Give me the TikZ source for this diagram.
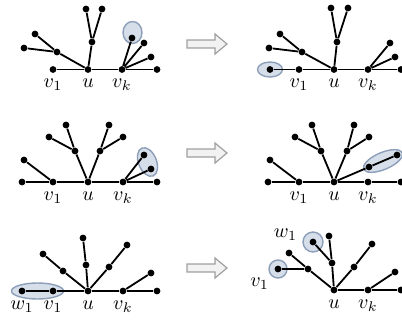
\documentclass[tikz,border=0pt]{standalone}
\usepackage{amsmath}
\usepackage{xcolor}
\usetikzlibrary{calc,backgrounds}

\definecolor{hlfill}{RGB}{214,222,234}
\definecolor{hlline}{RGB}{140,158,184}

\begin{document}
\begin{tikzpicture}[
  x=0.5pt, y=-0.5pt,
  label distance=-0.5pt,
  dot/.style={circle, fill, inner sep=0pt, minimum size=3.4pt},
  link/.style={draw, line width=0.9pt},
  hl/.style={fill=hlfill, draw=hlline, line width=0.7pt},
  imply/.style={fill=gray!10, draw=gray!75, line width=0.6pt},
]
\useasboundingbox (0,0) rectangle (402,322);

% arrows between the columns
\foreach \y in {44,153,268}
  \draw[imply] (187,{\y-4}) -- ++(28,0) -- ++(0,-6) -- ++(12,10)
    -- ++(-12,10) -- ++(0,-6) -- ++(-28,0) -- cycle;

% top left
\node[dot, label=below:$v_1$] (a-v1) at (53,69.5) {};
\node[dot, label=below:$u$] (a-u) at (88,69.5) {};
\node[dot, label=below:$v_k$] (a-vk) at (122,69.5) {};
\node[dot] (a-r) at (157,69.5) {};
\node[dot] (a-m) at (57,52) {};
\node[dot] (a-m1) at (35,34) {};
\node[dot] (a-m2) at (24,48) {};
\node[dot] (a-t) at (92,42) {};
\node[dot] (a-t1) at (86,9) {};
\node[dot] (a-t2) at (102,9) {};
\node[dot] (a-k1) at (132,38) {};
\node[dot] (a-k2) at (144,43) {};
\node[dot] (a-k3) at (151,57) {};
\draw[link] (a-v1) -- (a-u) -- (a-vk) -- (a-r);
\draw[link] (a-m2) -- (a-m) -- (a-u) -- (a-t) -- (a-t1) (a-t) -- (a-t2) (a-m1) -- (a-m);
\draw[link] (a-vk) -- (a-k1) (a-vk) -- (a-k2) (a-vk) -- (a-k3);

% top right
\node[dot] (b-w) at (270,69.5) {};
\node[dot, label=below:$v_1$] (b-v1) at (299,69.5) {};
\node[dot, label=below:$u$] (b-u) at (334,69.5) {};
\node[dot, label=below:$v_k$] (b-vk) at (368,69.5) {};
\node[dot] (b-r) at (401,69.5) {};
\node[dot] (b-m) at (302,52) {};
\node[dot] (b-m1) at (280,34) {};
\node[dot] (b-m2) at (269,48) {};
\node[dot] (b-t) at (337,42) {};
\node[dot] (b-t1) at (331,8) {};
\node[dot] (b-t2) at (348,8) {};
\node[dot] (b-k2) at (390,43) {};
\node[dot] (b-k3) at (395,57) {};
\draw[link] (b-w) -- (b-v1) -- (b-u) -- (b-vk) -- (b-r);
\draw[link] (b-m2) -- (b-m) -- (b-u) -- (b-t) -- (b-t1) (b-t) -- (b-t2) (b-m1) -- (b-m);
\draw[link] (b-vk) -- (b-k2) (b-vk) -- (b-k3);

% middle left
\node[dot] (c-l) at (22,182) {};
\node[dot, label=below:$v_1$] (c-v1) at (53,182) {};
\node[dot, label=below:$u$] (c-u) at (88,182) {};
\node[dot, label=below:$v_k$] (c-vk) at (123,182) {};
\node[dot] (c-r) at (157,182) {};
\node[dot] (c-p) at (24,160) {};
\node[dot] (c-m) at (75,151) {};
\node[dot] (c-m1) at (49,137) {};
\node[dot] (c-m2) at (66,125) {};
\node[dot] (c-t) at (100,151) {};
\node[dot] (c-t1) at (109,125) {};
\node[dot] (c-t2) at (123,137) {};
\node[dot] (c-k1) at (144,155) {};
\node[dot] (c-k2) at (151,169) {};
\draw[link] (c-l) -- (c-v1) -- (c-u) -- (c-vk) -- (c-r);
\draw[link] (c-p) -- (c-v1);
\draw[link] (c-m1) -- (c-m) -- (c-u) -- (c-t) -- (c-t2) (c-m2) -- (c-m) (c-t1) -- (c-t);
\draw[link] (c-vk) -- (c-k1) (c-vk) -- (c-k2);

% middle right
\node[dot] (d-l) at (268,182) {};
\node[dot, label=below:$v_1$] (d-v1) at (299,182) {};
\node[dot, label=below:$u$] (d-u) at (334,182) {};
\node[dot, label=below:$v_k$] (d-vk) at (368,182) {};
\node[dot] (d-r) at (401,182) {};
\node[dot] (d-p) at (270,160) {};
\node[dot] (d-m) at (321,151) {};
\node[dot] (d-m1) at (295,137) {};
\node[dot] (d-m2) at (312,125) {};
\node[dot] (d-t) at (347,151) {};
\node[dot] (d-t1) at (354,125) {};
\node[dot] (d-t2) at (369,137) {};
\node[dot] (d-k1) at (369,167) {};
\node[dot] (d-k2) at (397,155) {};
\draw[link] (d-l) -- (d-v1) -- (d-u) -- (d-vk) -- (d-r);
\draw[link] (d-p) -- (d-v1);
\draw[link] (d-m1) -- (d-m) -- (d-u) -- (d-t) -- (d-t2) (d-m2) -- (d-m) (d-t1) -- (d-t);
\draw[link] (d-u) -- (d-k1) -- (d-k2);

% bottom left
\node[dot, label=below:$w_1$] (e-w1) at (22,291) {};
\node[dot, label=below:$v_1$] (e-v1) at (53,291) {};
\node[dot, label=below:$u$] (e-u) at (88,291) {};
\node[dot, label=below:$v_k$] (e-vk) at (123,291) {};
\node[dot] (e-r) at (157,291) {};
\node[dot] (e-m) at (63,271) {};
\node[dot] (e-m1) at (43,254) {};
\node[dot] (e-t) at (86,265) {};
\node[dot] (e-t1) at (83,238) {};
\node[dot] (e-s) at (109,267) {};
\node[dot] (e-s1) at (127,245) {};
\node[dot] (e-k1) at (151,273) {};
\draw[link] (e-w1) -- (e-v1) -- (e-u) -- (e-vk) -- (e-r);
\draw[link] (e-u) -- (e-m) -- (e-m1) (e-u) -- (e-t) -- (e-t1) (e-u) -- (e-s) -- (e-s1);
\draw[link] (e-vk) -- (e-k1);

% bottom right
\node[dot, label=below:$u$] (f-u) at (334,290) {};
\node[dot, label=below:$v_k$] (f-vk) at (368,290) {};
\node[dot] (f-r) at (401,290) {};
\node[dot] (f-m) at (308,269) {};
\node[dot] (f-m1) at (289,253) {};
\node[dot, label=below left:$v_1$] (f-v1) at (278,269) {};
\node[dot] (f-t) at (332,263) {};
\node[dot] (f-t1) at (329,236) {};
\node[dot, label={[xshift=-3pt, yshift=3.5pt]left:$w_1$}] (f-w1) at (313,242) {};
\node[dot] (f-s) at (354,267) {};
\node[dot] (f-s1) at (372,244) {};
\node[dot] (f-k1) at (395,272) {};
\draw[link] (f-u) -- (f-vk) -- (f-r);
\draw[link] (f-u) -- (f-m) -- (f-m1) (f-m) -- (f-v1);
\draw[link] (f-u) -- (f-t) -- (f-t1) (f-t) -- (f-w1);
\draw[link] (f-u) -- (f-s) -- (f-s1) (f-vk) -- (f-k1);

% highlighted parts
\coordinate (c-c) at ($(c-k1)!0.5!(c-k2)$);
\coordinate (d-c) at ($(d-k1)!0.5!(d-k2)$);
\coordinate (e-c) at ($(e-w1)!0.5!(e-v1)$);
\begin{scope}[on background layer]
  \draw[hl] (a-k1) ++(0.5,-5.5) ellipse [x radius=9.5, y radius=11];
  \draw[hl] (b-w) ellipse [x radius=12.5, y radius=7.5];
  \draw[hl, rotate around={-68:(c-c)}] (c-c) ellipse [x radius=15, y radius=9];
  \draw[hl, rotate around={23:(d-c)}] (d-c) ellipse [x radius=21, y radius=8.5];
  \draw[hl] (e-c) ellipse [x radius=26, y radius=8];
  \draw[hl] (f-v1) circle [radius=9];
  \draw[hl] (f-w1) circle [radius=10];
\end{scope}
\end{tikzpicture}
\end{document}
